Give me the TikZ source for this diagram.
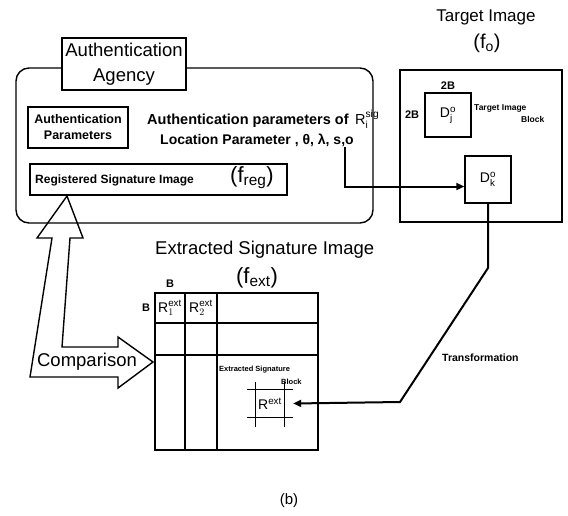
\documentclass[tikz,border=0pt]{standalone}
\usepackage{fontspec}
\setmainfont{Liberation Sans}
\usetikzlibrary{arrows.meta,positioning}

\begin{document}
\begin{tikzpicture}[
  x=1pt, y=-1pt,
  box/.style={draw, line width=1.4pt, inner sep=0pt},
  big/.style={inner sep=0pt, font=\fontsize{18.5}{22}\selectfont},
  small/.style={inner sep=0pt, font=\bfseries\fontsize{#1}{#1}\selectfont},
  small/.default=10,
  sym/.style={inner sep=0pt, font=\fontsize{#1}{#1}\selectfont},
  sym/.default=14,
  conn/.style={line width=2pt, -{Triangle[length=8pt,width=7pt]}},
  cross/.style={line width=1.2pt}
]
\useasboundingbox (0,0) rectangle (568,515);

% authentication agency
\node[draw, rounded corners=13pt, line width=1.4pt, minimum width=357pt, minimum height=155pt] (frame) at (194.5,145.5) {};
\node[draw, line width=2.6pt, fill=white, minimum width=124pt, minimum height=52pt, align=center,
  font=\fontsize{18.5}{25}\selectfont] (agency) at (124,64) {Authentication\\Agency};
\node[box, minimum width=100pt, minimum height=41pt, align=center,
  font=\bfseries\fontsize{12.5}{16}\selectfont] (params) at (78,127.5) {Authentication\\Parameters};
\node[small=14.5, anchor=west] (aptext) at (147,121) {Authentication parameters of};
\node[sym=14.5, anchor=west] (rsig) at (355,119) {R$^{\mathrm{sig}}_{\mathrm{i}}$};
\node[small=14, anchor=west] (loc) at (160,140) {Location Parameter , θ, λ, s,o};
\node[box, minimum width=257pt, minimum height=31pt] (reg) at (158.5,179.5) {};
\node[small=12, anchor=west] (regtext) at (35,180) {Registered Signature Image};
\node[sym=22] (freg) at (252,178) {(f$_{\mathrm{reg}}$)};

% target image
\node[sym=17] (tgttitle) at (486,17) {Target Image};
\node[sym=20] (fo) at (487,43) {(f$_{\mathrm{o}}$)};
\node[box, minimum width=162pt, minimum height=152pt] (target) at (481,146) {};
\node[box, minimum width=46pt, minimum height=44pt, font=\fontsize{14}{14}\selectfont] (dj) at (448,115) {D$^{\mathrm{o}}_{\mathrm{j}}$};
\node[small=11, above=3pt of dj] (twobtop) {2B};
\node[small=11, left=5pt of dj] (twobleft) {2B};
\node[small=8.5, anchor=west] (tib) at (474,108) {Target Image};
\node[small=8.5, anchor=west] (tibblock) at (521,119) {Block};
\node[box, minimum width=46pt, minimum height=47pt, font=\fontsize{14}{14}\selectfont] (dk) at (488,179.5) {D$^{\mathrm{o}}_{\mathrm{k}}$};

\coordinate (sigout) at (345,147);
\draw[conn] (sigout) |- ([yshift=-7pt]dk.west);

% extracted signature image
\node[big, anchor=west] (exttitle) at (155,250) {Extracted Signature Image};
\node[sym=22] (fext) at (257,278) {(f$_{\mathrm{ext}}$)};
\draw[line width=1.4pt] (155,293) rectangle (318,450);
\foreach \x in {185,217}
  \draw[line width=1.6pt] (\x,293) -- (\x,450);
\foreach \y in {323,355}
  \draw[line width=1.4pt] (155,\y) -- (318,\y);
\node[sym] (r1) at (170,308) {R$^{\mathrm{ext}}_{1}$};
\node[sym] (r2) at (201,308) {R$^{\mathrm{ext}}_{2}$};
\node[small=11] (btop) at (170,284) {B};
\node[small=11] (bleft) at (146,308) {B};
\node[small=7.5, anchor=west] (esb) at (219,370) {Extracted Signature};
\node[small=7.5, anchor=west] (esbblock) at (281,382) {Block};
\node[sym, minimum width=28pt, minimum height=27pt] (rext) at (270,403.5) {R$^{\mathrm{ext}}$};
\draw[cross] ([xshift=-9pt]rext.north west) -- ([xshift=9pt]rext.north east);
\draw[cross] ([xshift=-9pt]rext.south west) -- ([xshift=9pt]rext.south east);
\draw[cross] ([yshift=8pt]rext.north west) -- ([yshift=-10pt]rext.south west);
\draw[cross] ([yshift=8pt]rext.north east) -- ([yshift=-10pt]rext.south east);

\node[small=10.5, anchor=west] (transf) at (442,358) {Transformation};
\draw[conn] (dk.south) -- (488,268) -- (400,402) -- ([xshift=9pt]rext.east);

% comparison
\draw[line width=1.4pt, line join=miter] (67,196) -- (83,238) -- (70,238) -- (62,347) -- (118,347)
  -- (118,337) -- (153,362) -- (118,388) -- (118,377) -- (30,377) -- (52,238) -- (37,238) -- cycle;
\node[big] (cmp) at (87,362) {Comparison};

\node[sym=15] (lab) at (289,501) {(b)};
\end{tikzpicture}
\end{document}
